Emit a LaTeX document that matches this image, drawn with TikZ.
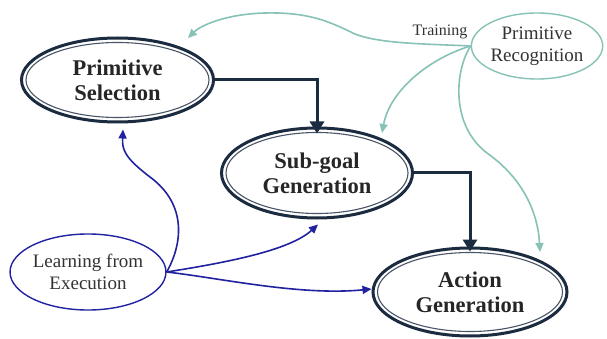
\documentclass[tikz,border=0pt]{standalone}
\usepackage{fontspec}
\setmainfont{Liberation Serif}
\usetikzlibrary{shapes.geometric,arrows.meta}
\definecolor{navy}{HTML}{1B2B40}
\definecolor{tealc}{HTML}{86C3B6}
\definecolor{bluec}{HTML}{2222A0}
\begin{document}
\begin{tikzpicture}[x=1pt,y=-1pt,
  bigbox/.style={ellipse, draw=navy, line width=3pt, inner sep=0pt, align=center,
    text=black!85, font=\bfseries\fontsize{22.5}{25}\selectfont},
  smallbox/.style={ellipse, line width=1.4pt, inner sep=0pt, align=center,
    text=black!80, font=\fontsize{19}{22}\selectfont},
  innerline/.style={draw=navy!80, line width=1.1pt},
  darkarrow/.style={draw=navy, line width=3pt, -{Triangle[length=12pt,width=14pt]}},
  tealarrow/.style={draw=tealc, line width=1.6pt, -{Triangle[length=9pt,width=8pt]}},
  bluearrow/.style={draw=bluec, line width=1.6pt, -{Triangle[length=9pt,width=8pt]}}]
\useasboundingbox (0,0) rectangle (607,339);
\fill[white] (0,0) rectangle (607,339);

\node[bigbox, minimum width=192pt, minimum height=84pt] (ps) at (117.5,80) {Primitive\\Selection};
\node[bigbox, minimum width=191pt, minimum height=90pt] (sg) at (317,173) {Sub-goal\\Generation};
\node[bigbox, minimum width=194pt, minimum height=88pt] (ag) at (470,292) {Action\\Generation};
\draw[innerline] (ps.center) ellipse [x radius=91.5, y radius=37.5];
\draw[innerline] (sg.center) ellipse [x radius=91, y radius=40.5];
\draw[innerline] (ag.center) ellipse [x radius=92.5, y radius=39.5];

\node[smallbox, draw=tealc, minimum width=130pt, minimum height=66pt] (pr) at (537,46) {Primitive\\Recognition};
\node[smallbox, draw=bluec, minimum width=154pt, minimum height=76pt] (le) at (88,272) {Learning from\\Execution};
\node[font=\fontsize{16}{18}\selectfont, text=black!80, inner sep=0pt] (tr) at (440,32) {Training};

% dark flow arrows
\draw[darkarrow] (ps.east) -| ([yshift=-7]sg.north);
\draw[darkarrow] (sg.east) -| ([yshift=-5]ag.north);

% teal training arrows
\draw[tealarrow] (pr.west) .. controls (430,44) and (380,44) .. (355,34)
  .. controls (330,22) and (310,12) .. (265,13)
  .. controls (225,14) and (200,26) .. ([shift={(70.5,-42)}]ps.center);
\draw[tealarrow] (pr.west) .. controls (430,58) and (390,90) .. ([shift={(65,-40)}]sg.center);
\draw[tealarrow] (pr.west) .. controls (455,70) and (450,125) .. (487,153)
  .. controls (525,180) and (538,215) .. ([shift={(70,-40)}]ag.center);

% blue learning arrows
\draw[bluearrow] (le.east) .. controls (182,245) and (188,205) .. (150,177)
  .. controls (125,158) and (122,150) .. ([shift={(5.5,6)}]ps.south);
\draw[bluearrow] (le.east) .. controls (230,262) and (290,250) .. ([shift={(1,5)}]sg.south);
\draw[bluearrow] (le.east) .. controls (220,278) and (300,296) .. ([yshift=3]ag.west);
\end{tikzpicture}
\end{document}
